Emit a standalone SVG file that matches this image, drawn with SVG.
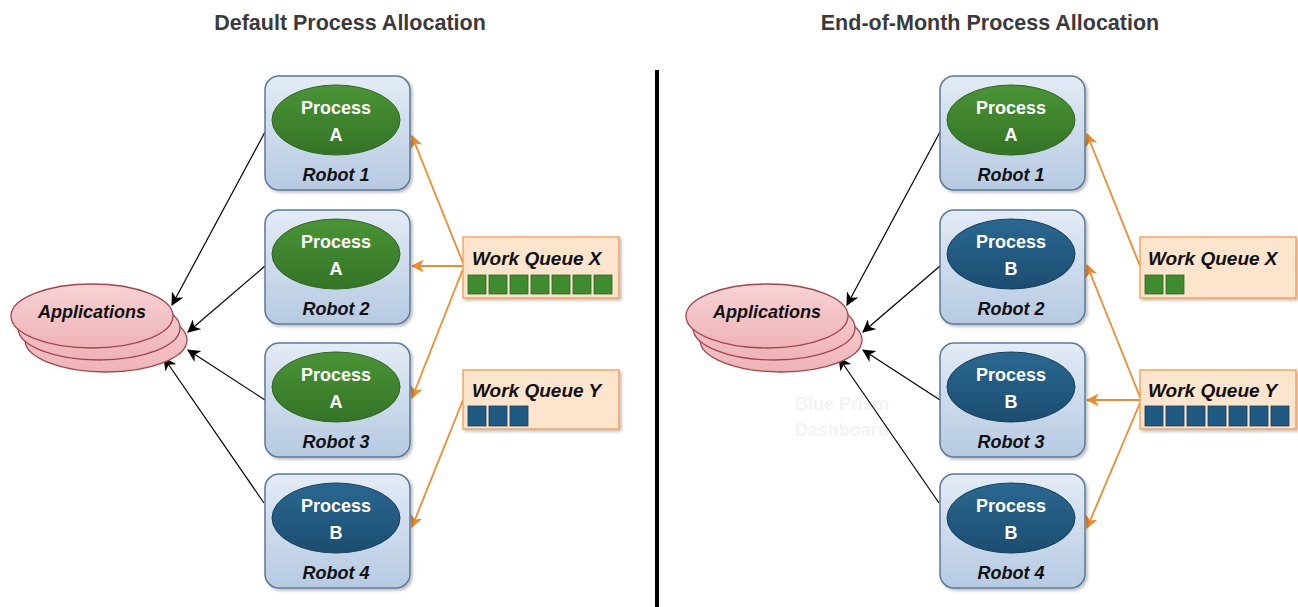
<svg xmlns="http://www.w3.org/2000/svg" width="1298" height="607" viewBox="0 0 1298 607">
<defs>
<linearGradient id="gRobot" x1="0" y1="0" x2="0" y2="1"><stop offset="0" stop-color="#e3ebf5"/><stop offset="1" stop-color="#b6cae2"/></linearGradient>
<linearGradient id="gGreen" x1="0" y1="0" x2="0" y2="1"><stop offset="0" stop-color="#4a9435"/><stop offset="1" stop-color="#347426"/></linearGradient>
<linearGradient id="gBlue" x1="0" y1="0" x2="0" y2="1"><stop offset="0" stop-color="#2a6891"/><stop offset="1" stop-color="#1b4d70"/></linearGradient>
<linearGradient id="gPink" x1="0" y1="0" x2="0" y2="1"><stop offset="0" stop-color="#f7d3d5"/><stop offset="1" stop-color="#eeb3b7"/></linearGradient>
<marker id="mBlack" viewBox="0 0 12 12" refX="11" refY="6" markerWidth="13" markerHeight="13" markerUnits="userSpaceOnUse" orient="auto"><path d="M0,0 L12,6 L0,12 L3.5,6 z" fill="#000"/></marker>
<marker id="mOrange" viewBox="0 0 12 12" refX="11" refY="6" markerWidth="13" markerHeight="13" markerUnits="userSpaceOnUse" orient="auto"><path d="M0,0 L12,6 L0,12 L3.5,6 z" fill="#ef8a2d"/></marker>
<filter id="sh" x="-10%" y="-10%" width="125%" height="125%"><feDropShadow dx="2" dy="2" stdDeviation="1.5" flood-color="#000" flood-opacity="0.25"/></filter>
</defs>
<style>
.title{font-family:"Liberation Sans",Arial,sans-serif;font-weight:bold;font-size:21.5px;fill:#3a3a3a;text-anchor:middle}
.robot{fill:url(#gRobot);stroke:#5b7a99;stroke-width:1.5}
.pA{fill:url(#gGreen);stroke:#2f6622;stroke-width:1}
.pB{fill:url(#gBlue);stroke:#163f5c;stroke-width:1}
.pt{font-family:"Liberation Sans",Arial,sans-serif;font-weight:bold;font-size:18px;fill:#fff;text-anchor:middle}
.rt{font-family:"Liberation Sans",Arial,sans-serif;font-weight:bold;font-style:italic;font-size:18px;fill:#111;text-anchor:middle}
.app{fill:url(#gPink);stroke:#a5434c;stroke-width:1.3}
.at{font-family:"Liberation Sans",Arial,sans-serif;font-weight:bold;font-style:italic;font-size:18px;fill:#111;text-anchor:middle}
.q{fill:#fce4cd;stroke:#f39a4c;stroke-width:1.3}
.qt{font-family:"Liberation Sans",Arial,sans-serif;font-weight:bold;font-style:italic;font-size:19px;fill:#111}
.sg{fill:#3f8b30;stroke:#2c6a22;stroke-width:0.8}
.sb{fill:#1f5a82;stroke:#163f5c;stroke-width:0.8}
.bk{stroke:#000;stroke-width:1.2;fill:none;marker-end:url(#mBlack)}
.or{stroke:#ef8a2d;stroke-width:1.8;fill:none;marker-end:url(#mOrange)}
.faint{font-family:"Liberation Sans",Arial,sans-serif;font-weight:bold;font-size:18px;fill:#f3f3f3;text-anchor:middle}
</style>
<rect width="1298" height="607" fill="#fff"/>
<text class="title" x="350" y="30">Default Process Allocation</text>
<text class="title" x="990" y="30">End-of-Month Process Allocation</text>
<line x1="657" y1="70" x2="657" y2="607" stroke="#000" stroke-width="4"/>
<text class="faint" x="842" y="410">Blue Prism</text>
<text class="faint" x="842" y="436">Dashboard</text>

<g id="connectors">
<line class="bk" x1="265" y1="132" x2="172" y2="305"/>
<line class="bk" x1="265" y1="266" x2="188" y2="332"/>
<line class="bk" x1="265" y1="400" x2="188" y2="350"/>
<line class="bk" x1="264" y1="503" x2="164" y2="358"/>
<line class="or" x1="463" y1="263" x2="412" y2="136"/>
<line class="or" x1="463" y1="266" x2="412" y2="266"/>
<line class="or" x1="463" y1="269" x2="412" y2="398"/>
<line class="or" x1="463" y1="400" x2="412" y2="527"/>
<line class="bk" x1="940" y1="132" x2="847" y2="305"/>
<line class="bk" x1="940" y1="266" x2="863" y2="332"/>
<line class="bk" x1="940" y1="400" x2="863" y2="350"/>
<line class="bk" x1="939" y1="503" x2="839" y2="358"/>
<line class="or" x1="1140" y1="266" x2="1087" y2="134"/>
<line class="or" x1="1140" y1="397" x2="1087" y2="265"/>
<line class="or" x1="1140" y1="400" x2="1087" y2="400"/>
<line class="or" x1="1140" y1="403" x2="1087" y2="528"/>
</g>

<g id="apps-left">
<ellipse class="app" cx="106" cy="340" rx="81" ry="32"/>
<ellipse class="app" cx="99" cy="328" rx="81" ry="32"/>
<ellipse class="app" cx="92" cy="316" rx="81" ry="32"/>
<text class="at" x="92" y="318">Applications</text>
</g>
<g id="apps-right">
<ellipse class="app" cx="781" cy="340" rx="81" ry="32"/>
<ellipse class="app" cx="774" cy="328" rx="81" ry="32"/>
<ellipse class="app" cx="767" cy="316" rx="81" ry="32"/>
<text class="at" x="767" y="318">Applications</text>
</g>

<g id="robot1-left"><rect class="robot" filter="url(#sh)" x="265" y="76" width="145" height="114" rx="14"/><ellipse class="pA" cx="336" cy="120" rx="64" ry="35"/><text class="pt" x="336" y="114">Process</text><text class="pt" x="336" y="141">A</text><text class="rt" x="336" y="181">Robot 1</text></g>
<g id="robot2-left"><rect class="robot" filter="url(#sh)" x="265" y="210" width="145" height="114" rx="14"/><ellipse class="pA" cx="336" cy="254" rx="64" ry="35"/><text class="pt" x="336" y="248">Process</text><text class="pt" x="336" y="275">A</text><text class="rt" x="336" y="315">Robot 2</text></g>
<g id="robot3-left"><rect class="robot" filter="url(#sh)" x="265" y="343" width="145" height="114" rx="14"/><ellipse class="pA" cx="336" cy="387" rx="64" ry="35"/><text class="pt" x="336" y="381">Process</text><text class="pt" x="336" y="408">A</text><text class="rt" x="336" y="448">Robot 3</text></g>
<g id="robot4-left"><rect class="robot" filter="url(#sh)" x="265" y="474" width="145" height="114" rx="14"/><ellipse class="pB" cx="336" cy="518" rx="64" ry="35"/><text class="pt" x="336" y="512">Process</text><text class="pt" x="336" y="539">B</text><text class="rt" x="336" y="579">Robot 4</text></g>

<g id="robot1-right"><rect class="robot" filter="url(#sh)" x="940" y="76" width="145" height="114" rx="14"/><ellipse class="pA" cx="1011" cy="120" rx="64" ry="35"/><text class="pt" x="1011" y="114">Process</text><text class="pt" x="1011" y="141">A</text><text class="rt" x="1011" y="181">Robot 1</text></g>
<g id="robot2-right"><rect class="robot" filter="url(#sh)" x="940" y="210" width="145" height="114" rx="14"/><ellipse class="pB" cx="1011" cy="254" rx="64" ry="35"/><text class="pt" x="1011" y="248">Process</text><text class="pt" x="1011" y="275">B</text><text class="rt" x="1011" y="315">Robot 2</text></g>
<g id="robot3-right"><rect class="robot" filter="url(#sh)" x="940" y="343" width="145" height="114" rx="14"/><ellipse class="pB" cx="1011" cy="387" rx="64" ry="35"/><text class="pt" x="1011" y="381">Process</text><text class="pt" x="1011" y="408">B</text><text class="rt" x="1011" y="448">Robot 3</text></g>
<g id="robot4-right"><rect class="robot" filter="url(#sh)" x="940" y="474" width="145" height="114" rx="14"/><ellipse class="pB" cx="1011" cy="518" rx="64" ry="35"/><text class="pt" x="1011" y="512">Process</text><text class="pt" x="1011" y="539">B</text><text class="rt" x="1011" y="579">Robot 4</text></g>

<g id="queueX-left"><rect class="q" filter="url(#sh)" x="463" y="237" width="156" height="61"/><text class="qt" x="472" y="265">Work Queue X</text>
<rect class="sg" x="468" y="275" width="18" height="19"/><rect class="sg" x="489" y="275" width="18" height="19"/><rect class="sg" x="510" y="275" width="18" height="19"/><rect class="sg" x="531" y="275" width="18" height="19"/><rect class="sg" x="552" y="275" width="18" height="19"/><rect class="sg" x="573" y="275" width="18" height="19"/><rect class="sg" x="594" y="275" width="18" height="19"/></g>
<g id="queueY-left"><rect class="q" filter="url(#sh)" x="463" y="370" width="156" height="59"/><text class="qt" x="472" y="397">Work Queue Y</text>
<rect class="sb" x="468" y="406" width="18" height="20"/><rect class="sb" x="489" y="406" width="18" height="20"/><rect class="sb" x="510" y="406" width="18" height="20"/></g>
<g id="queueX-right"><rect class="q" filter="url(#sh)" x="1140" y="237" width="156" height="61"/><text class="qt" x="1148" y="265">Work Queue X</text>
<rect class="sg" x="1145" y="275" width="18" height="19"/><rect class="sg" x="1166" y="275" width="18" height="19"/></g>
<g id="queueY-right"><rect class="q" filter="url(#sh)" x="1140" y="370" width="156" height="59"/><text class="qt" x="1148" y="397">Work Queue Y</text>
<rect class="sb" x="1145" y="406" width="18" height="20"/><rect class="sb" x="1166" y="406" width="18" height="20"/><rect class="sb" x="1187" y="406" width="18" height="20"/><rect class="sb" x="1208" y="406" width="18" height="20"/><rect class="sb" x="1229" y="406" width="18" height="20"/><rect class="sb" x="1250" y="406" width="18" height="20"/><rect class="sb" x="1271" y="406" width="18" height="20"/></g>
</svg>
